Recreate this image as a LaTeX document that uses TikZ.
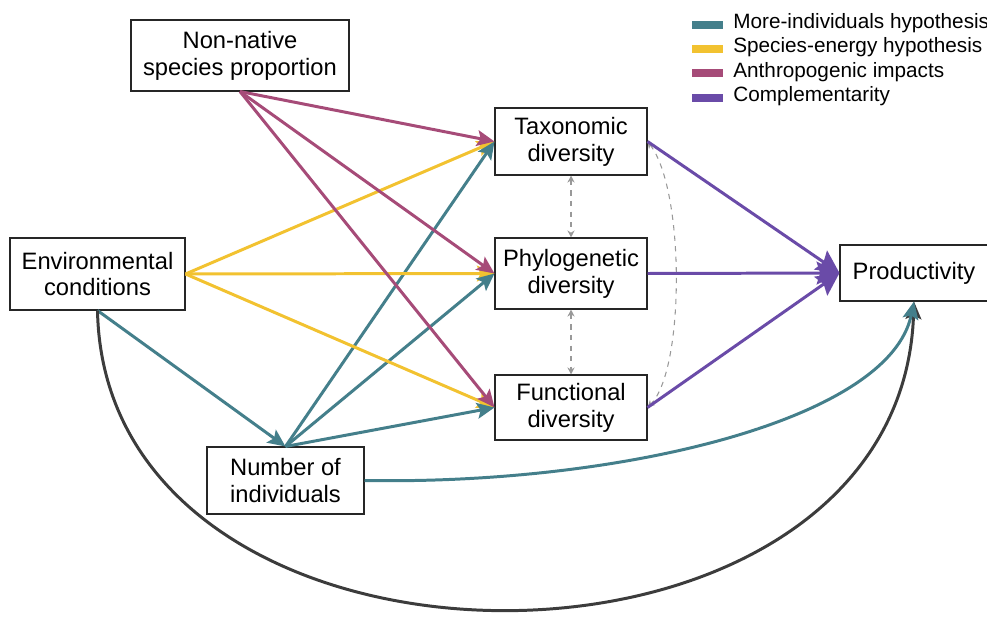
\documentclass[tikz,border=0pt]{standalone}
\usepackage{fontspec}
\setmainfont{Liberation Sans}
\usetikzlibrary{arrows.meta}

\definecolor{indiv}{HTML}{447F8B}
\definecolor{energy}{HTML}{F2C230}
\definecolor{anthro}{HTML}{A64B78}
\definecolor{compl}{HTML}{6A4BA8}
\definecolor{direct}{HTML}{3C3C3C}

\begin{document}
\begin{tikzpicture}[x=0.02cm, y=-0.02cm,
    box/.style = {draw=black!85, line width=0.6pt, fill=white, align=center, inner sep=0pt,
                  font=\fontsize{13.5}{15.3}\selectfont},
    link/.style = {line width=1.7pt, -{Stealth[length=10pt, width=9pt, inset=2pt]}},
    complink/.style = {line width=1.7pt, compl, -{Stealth[length=13pt, width=13pt, inset=2pt]}},
    corr/.style = {line width=0.6pt, gray!80, dashed,
                   {Stealth[length=4pt, width=4pt]}-{Stealth[length=4pt, width=4pt]}},
    legkey/.style = {minimum width=0.62cm, minimum height=0.16cm, inner sep=0pt},
    legtext/.style = {inner sep=0pt, anchor=base west, font=\fontsize{11.8}{14}\selectfont}]
    \useasboundingbox (0,0) rectangle (987,628);

    % Drawing the drivers
    \node[box, minimum width=4.36cm, minimum height=1.42cm] (nonnat) at (240,55.5) {Non-native\\species proportion};
    \node[box, minimum width=3.5cm, minimum height=1.44cm] (env) at (97.5,274) {Environmental\\conditions};
    \node[box, minimum width=3.14cm, minimum height=1.34cm] (num) at (285.5,480.5) {Number of\\individuals};

    % Drawing the diversity facets
    \node[box, minimum width=3.04cm, minimum height=1.34cm] (tax) at (571,141.5) {Taxonomic\\diversity};
    \node[box, minimum width=3.04cm, minimum height=1.42cm] (phy) at (571,273.5) {Phylogenetic\\diversity};
    \node[box, minimum width=3.04cm, minimum height=1.3cm] (fun) at (571,407.5) {Functional\\diversity};

    % Drawing the response
    \node[box, minimum width=2.96cm, minimum height=1.12cm] (prod) at (914,273) {Productivity};

    % Legend
    \foreach \col/\txt [count=\i] in {indiv/More-individuals hypothesis, energy/Species-energy hypothesis,
                                      anthro/Anthropogenic impacts, compl/Complementarity}{
        \pgfmathsetmacro{\yPos}{24.7+(\i-1)*24.4}
        \node[legkey, fill=\col] (key-\i) at (707.5,\yPos) {};
        \node[legtext] (lab-\i) at (733,\yPos+3.8) {\txt};
      }

    % Connections
    % Correlations between the diversity facets
    \draw[corr] (tax.south) -- (phy.north);
    \draw[corr] (phy.south) -- (fun.north);
    \draw[corr] (tax.east) .. controls (685,190) and (685,370) .. (fun.east);

    % Drivers to each diversity facet
    \foreach \t in {tax,phy,fun}{
        \draw[link, energy] (env.east) -- (\t.west);
        \draw[link, anthro] (nonnat.south) -- (\t.west);
        \draw[link, indiv] (num.north) -- (\t.west);
      }
    \draw[link, indiv] (env.south) -- (num.north);

    % Diversity facets to productivity
    \foreach \t in {tax,phy,fun}{
        \draw[complink] (\t.east) -- (prod.west);
      }

    % Direct paths to productivity
    \draw[link, direct] (env.south) .. controls (105,710) and (900,710) .. (prod.south);
    \draw[link, indiv] (num.east) .. controls (620,485) and (890,420) .. (prod.south);
\end{tikzpicture}
\end{document}
